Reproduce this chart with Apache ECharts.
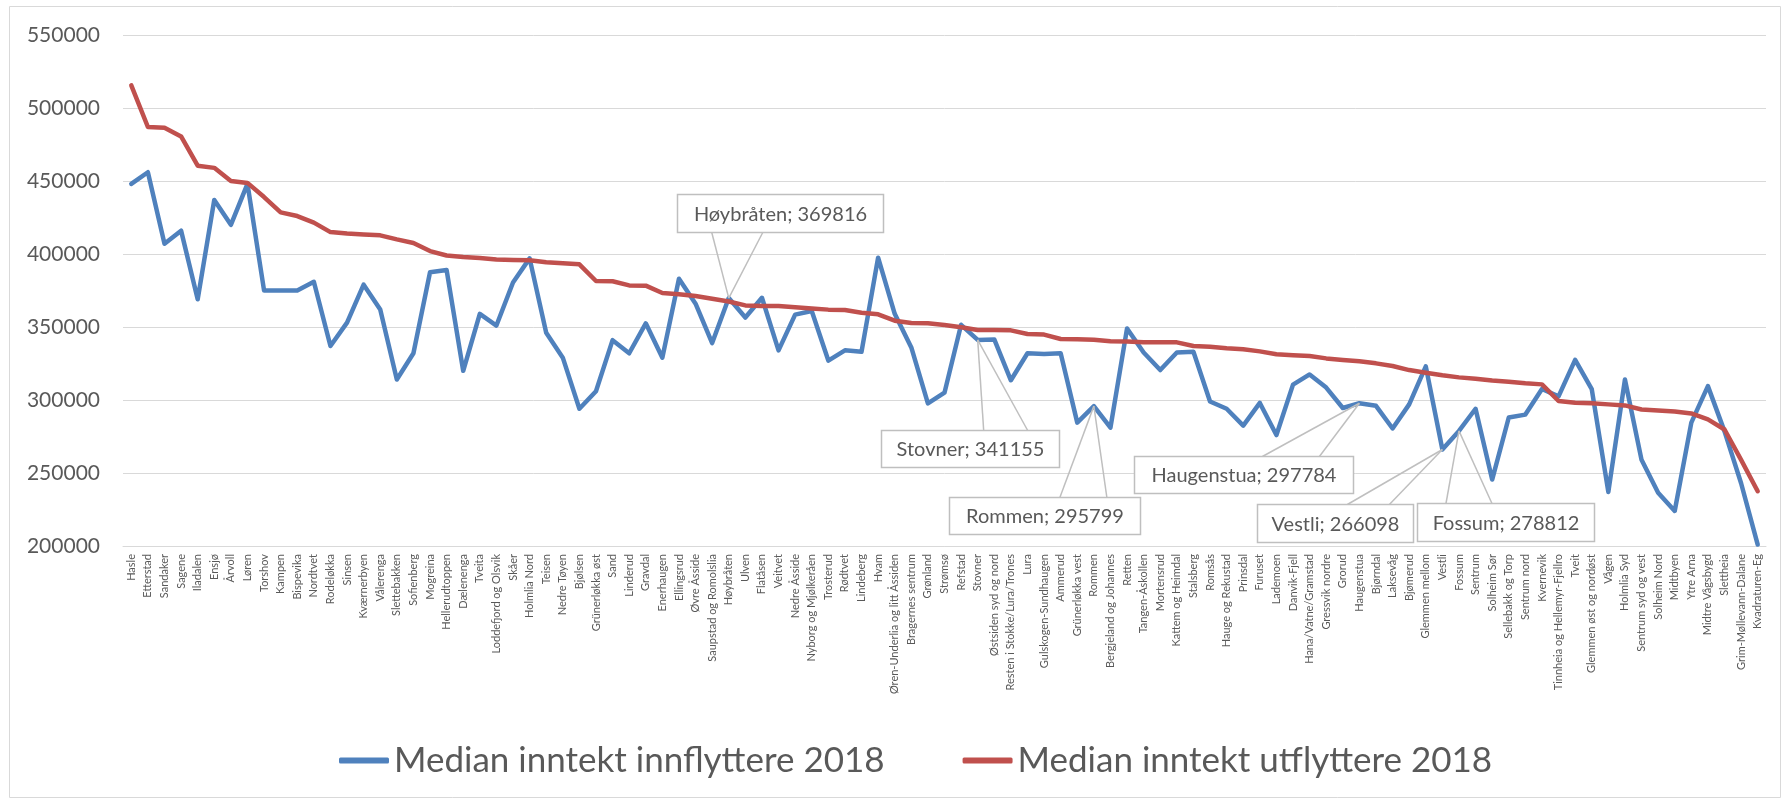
<!DOCTYPE html>
<html>
<head>
<meta charset="utf-8">
<script src="https://cdn.jsdelivr.net/npm/echarts@6/dist/echarts.min.js"></script>
<style>
html, body { margin: 0; padding: 0; background: #fff; }
#container { width: 1787px; height: 801px; }
</style>
</head>
<body>
<div id="container"></div>
<script>
// områdene, sortert etter median inntekt for utflyttere
var areas = ['Hasle', 'Etterstad', 'Sandaker', 'Sagene', 'Iladalen', 'Ensjø', 'Årvoll', 'Løren', 'Torshov', 'Kampen',
    'Bispevika', 'Nordtvet', 'Rodeløkka', 'Sinsen', 'Kværnerbyen', 'Vålerenga', 'Slettebakken', 'Sofienberg', 'Mogreina', 'Hellerudtoppen',
    'Dælenenga', 'Tveita', 'Loddefjord og Olsvik', 'Skåer', 'Holmlia Nord', 'Teisen', 'Nedre Tøyen', 'Bjølsen', 'Grünerløkka øst', 'Sand',
    'Linderud', 'Gravdal', 'Enerhaugen', 'Ellingsrud', 'Øvre Åsside', 'Saupstad og Romolslia', 'Høybråten', 'Ulven', 'Flatåsen', 'Veitvet',
    'Nedre Åsside', 'Nyborg og Mjølkeråen', 'Trosterud', 'Rødtvet', 'Lindeberg', 'Hvam', 'Øren-Underlia og litt Åssiden', 'Bragernes sentrum', 'Grønland', 'Strømsø',
    'Refstad', 'Stovner', 'Østsiden syd og nord', 'Resten i Stokke/Lura/Trones', 'Lura', 'Gulskogen-Sundhaugen', 'Ammerud', 'Grünerløkka vest', 'Rommen', 'Bergjeland og Johannes',
    'Retten', 'Tangen-Åskollen', 'Mortensrud', 'Kattem og Heimdal', 'Stalsberg', 'Romsås', 'Hauge og Rekustad', 'Prinsdal', 'Furuset', 'Lademoen',
    'Danvik-Fjell', 'Hana/Vatne/Gramstad', 'Gressvik nordre', 'Grorud', 'Haugenstua', 'Bjørndal', 'Laksevåg', 'Bjømerud', 'Glemmen mellom', 'Vestli',
    'Fossum', 'Sentrum', 'Solheim Sør', 'Sellebakk og Torp', 'Sentrum nord', 'Kvernevik', 'Tinnheia og Hellemyr-Fjellro', 'Tveit', 'Glemmen øst og nordøst', 'Vågen',
    'Holmlia Syd', 'Sentrum syd og vest', 'Solheim Nord', 'Midtbyen', 'Ytre Arna', 'Midtre Vågsbygd', 'Slettheia', 'Grim-Møllevann-Dalane', 'Kvadraturen-Eg'];

var innflyttere = [448000, 456000, 407000, 416000, 369000, 437000, 420000, 448000, 375000, 375000,
    375000, 381000, 337000, 353000, 379000, 362000, 314000, 332000, 387500, 389000,
    320000, 359000, 351000, 380500, 397000, 346000, 329000, 294000, 306000, 341000,
    332000, 352500, 329000, 383000, 366000, 339000, 369816, 356500, 370000, 334000,
    358500, 361000, 327000, 334000, 333000, 397500, 359000, 336000, 297700, 305000,
    351500, 341155, 341500, 313500, 332000, 331500, 332000, 284500, 295799, 281000,
    349000, 332500, 320500, 332500, 333000, 299000, 294000, 282500, 298000, 276000,
    310500, 317500, 308500, 294500, 297784, 296000, 280500, 297000, 323000, 266098,
    278812, 294000, 245500, 288000, 290000, 307500, 302500, 327500, 307500, 237000,
    314000, 259000, 236500, 224000, 284500, 309500, 278500, 243000, 201000];

var utflyttere = [515500, 487000, 486500, 480500, 460500, 459000, 450000, 448700, 439000, 428500,
    426000, 421500, 415000, 414000, 413300, 412800, 410000, 407500, 402000, 399000,
    398000, 397300, 396300, 395900, 395700, 394300, 393600, 392900, 381500, 381300,
    378500, 378300, 373300, 372400, 371200, 369400, 367500, 364800, 364400, 364400,
    363500, 362600, 361900, 361600, 359800, 358700, 354300, 352700, 352500, 351400,
    349800, 347900, 347900, 347700, 345200, 344800, 341800, 341600, 341300, 340200,
    340000, 339500, 339500, 339500, 337000, 336500, 335400, 334700, 333300, 331300,
    330600, 330100, 328500, 327400, 326500, 325100, 323300, 320500, 318700, 316900,
    315500, 314600, 313300, 312500, 311400, 310700, 299300, 298100, 297800, 297000,
    296300, 293500, 292800, 292100, 290800, 286700, 279800, 259000, 237500];

var yTicks = [200000, 250000, 300000, 350000, 400000, 450000, 500000, 550000];
var seriesNames = ['Median inntekt innflyttere 2018', 'Median inntekt utflyttere 2018'];
var calloutAreas = ['Høybråten', 'Stovner', 'Rommen', 'Haugenstua', 'Vestli', 'Fossum'];

var fontFam = 'Lato, "Open Sans", sans-serif';
var txtColor = '#595959';
var gridColor = '#d9d9d9';

// plassering av etikettboksene i forhold til punktet (piksler)
var calloutLayout = {
    'Høybråten':  { dx: -52,  dy: -104, w: 206, h: 38, a: [-17, 34], edge: 'bottom' },
    'Stovner':    { dx: -97,  dy: 90,   w: 178, h: 37, a: [6, 50],   edge: 'top' },
    'Rommen':     { dx: -145, dy: 91,   w: 191, h: 37, a: [-34, 13], edge: 'top' },
    'Haugenstua': { dx: -225, dy: 53,   w: 219, h: 37, a: [-97, -40], edge: 'top' },
    'Vestli':     { dx: -185, dy: 55,   w: 156, h: 38, a: [-95, -53], edge: 'top' },
    'Fossum':     { dx: -42,  dy: 72,   w: 177, h: 38, a: [-13, 33], edge: 'top' }
};

var myChart = echarts.init(document.getElementById('container'));

var option = {
    animation: false,
    textStyle: { fontFamily: fontFam },
    grid: { left: 123, right: 21, top: 35, bottom: 255 },
    legend: {
        data: seriesNames,
        left: 334,
        top: 738,
        icon: 'roundRect',
        itemWidth: 50,
        itemHeight: 6,
        itemGap: 78,
        textStyle: { fontSize: 35, color: txtColor, fontFamily: fontFam }
    },
    xAxis: {
        type: 'category',
        data: areas,
        boundaryGap: true,
        axisLine: { show: true, lineStyle: { color: gridColor, width: 1 } },
        axisTick: { show: false },
        axisLabel: { interval: 0, rotate: 90, fontSize: 11, color: txtColor, margin: 8, fontFamily: fontFam }
    },
    yAxis: {
        type: 'value',
        min: yTicks[0],
        max: yTicks[yTicks.length - 1],
        interval: yTicks[1] - yTicks[0],
        axisLine: { show: false },
        axisTick: { show: false },
        splitLine: { lineStyle: { color: gridColor, width: 1 } },
        axisLabel: {
            fontSize: 21, color: txtColor, margin: 23, fontFamily: fontFam,
            formatter: function (v) { return String(v); }
        }
    },
    series: [
        {
            name: seriesNames[0],
            type: 'line',
            data: innflyttere,
            symbol: 'none',
            itemStyle: { color: '#4f81bd' },
            lineStyle: { color: '#4f81bd', width: 4.5, join: 'round', cap: 'round' }
        },
        {
            name: seriesNames[1],
            type: 'line',
            data: utflyttere,
            symbol: 'none',
            itemStyle: { color: '#c0504d' },
            lineStyle: { color: '#c0504d', width: 4.5, join: 'round', cap: 'round' }
        }
    ]
};
myChart.setOption(option);

// ramme + etiketter med ledelinjer
var elements = [{
    type: 'rect',
    silent: true,
    shape: { x: 9.5, y: 6.5, width: 1771, height: 791 },
    style: { fill: 'none', stroke: gridColor, lineWidth: 1 }
}];

calloutAreas.forEach(function (name) {
    var idx = areas.indexOf(name);
    var val = innflyttere[idx];
    var p = myChart.convertToPixel({ seriesIndex: 0 }, [idx, val]);
    var l = calloutLayout[name];
    var bx = Math.round(p[0] + l.dx) + 0.5;
    var by = Math.round(p[1] + l.dy) + 0.5;
    var ey = l.edge === 'top' ? by : by + l.h;
    l.a.forEach(function (ax) {
        elements.push({
            type: 'line', silent: true, z: 100,
            shape: { x1: p[0] + ax, y1: ey, x2: p[0], y2: p[1] },
            style: { stroke: '#bfbfbf', lineWidth: 1.5 }
        });
    });
    elements.push({
        type: 'rect', silent: true, z: 101,
        shape: { x: bx, y: by, width: l.w, height: l.h },
        style: { fill: '#fff', stroke: '#bfbfbf', lineWidth: 1.5 }
    });
    elements.push({
        type: 'text', silent: true, z: 102,
        x: bx + l.w / 2, y: by + l.h / 2 + 1,
        style: {
            text: name + '; ' + val,
            fill: txtColor,
            font: '20px ' + fontFam,
            align: 'center',
            verticalAlign: 'middle'
        }
    });
});

myChart.setOption({ graphic: { elements: elements } });
</script>
</body>
</html>
